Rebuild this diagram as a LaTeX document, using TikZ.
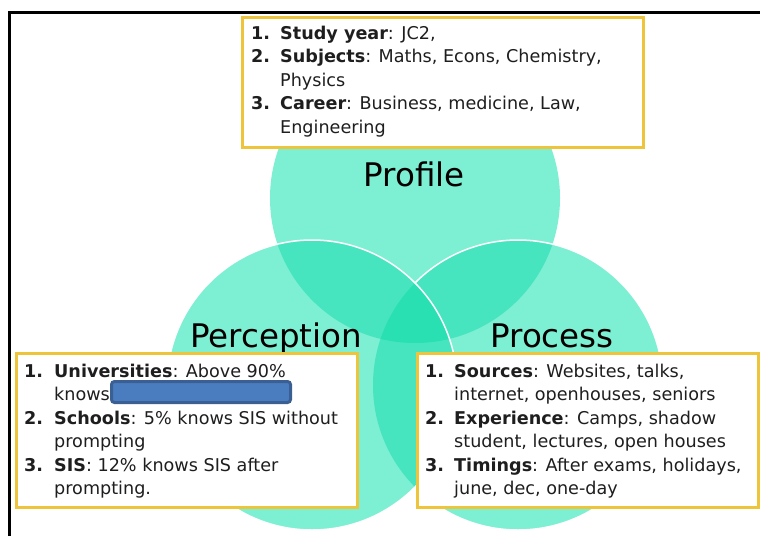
\documentclass[tikz,border=0pt]{standalone}
\usepackage{fontspec}
\setmainfont{DejaVu Sans}
\usepackage{array}

\definecolor{venn1}{HTML}{7DEFD3}
\definecolor{venn2}{HTML}{47E5BF}
\definecolor{venn3}{HTML}{29E0B2}
\definecolor{boxgold}{HTML}{EEC53A}
\definecolor{bodytext}{HTML}{1E1E1E}
\definecolor{maskfill}{HTML}{4A7DC0}
\definecolor{maskedge}{HTML}{3B5E93}

\tikzset{
  infobox/.style={draw=boxgold, line width=2.5pt, fill=white, inner sep=0pt,
    anchor=north west},
  itemtext/.style={anchor=base west, inner sep=0pt, text=bodytext,
    font=\fontsize{17.6}{23.5}\selectfont},
  biglabel/.style={anchor=base, inner sep=0pt, text=black,
    font=\fontsize{32.5}{39}\selectfont},
  vennedge/.style={draw=white, line width=1.5pt}
}

\begin{document}
\begin{tikzpicture}[x=1pt,y=-1pt]
  \useasboundingbox (0,0) rectangle (760,536);
  \fill[white] (0,0) rectangle (760,536);

  % frame lines along the top and left
  \draw[line width=3pt] (9.5,536) -- (9.5,12.5) -- (760,12.5);

  % Venn circle centres
  \coordinate (cTop)   at (415,198);
  \coordinate (cLeft)  at (312,385);
  \coordinate (cRight) at (518,385);

  % Profile circle
  \fill[venn1] (cTop) circle (145);

  % Process circle
  \fill[venn1] (cRight) circle (145);
  \begin{scope}
    \clip (cRight) circle (145);
    \fill[venn2] (cTop) circle (145);
  \end{scope}
  \draw[vennedge] (cRight) circle (145);

  % Perception circle
  \fill[venn1] (cLeft) circle (145);
  \begin{scope}
    \clip (cLeft) circle (145);
    \fill[venn2] (cTop) circle (145);
    \fill[venn2] (cRight) circle (145);
    \clip (cTop) circle (145);
    \fill[venn3] (cRight) circle (145);
  \end{scope}
  \draw[vennedge] (cLeft) circle (145);

  % circle labels
  \node[biglabel] (lblProfile)    at (414,186) {Profile};
  \node[biglabel] (lblPerception) at (276,347) {Perception};
  \node[biglabel] (lblProcess)    at (552,347) {Process};

  % Profile box
  \node[infobox, minimum width=401pt, minimum height=130pt] (boxProfile) at (241,16) {};
  \node[itemtext] (txtProfile) at (251,39) {%
    \begin{tabular}[t]{@{}p{29pt}@{}l@{}}
      \textbf{1.} & \textbf{Study year}: JC2,\\
      \textbf{2.} & \textbf{Subjects}: Maths, Econs, Chemistry,\\
                  & Physics\\
      \textbf{3.} & \textbf{Career}: Business, medicine, Law,\\
                  & Engineering
    \end{tabular}};

  % Perception box
  \node[infobox, minimum width=341pt, minimum height=154pt] (boxPerception) at (15,352) {};
  \node[itemtext] (txtPerception) at (24,377) {%
    \begin{tabular}[t]{@{}p{30pt}@{}l@{}}
      \textbf{1.} & \textbf{Universities}: Above 90\%\\
                  & knows\\
      \textbf{2.} & \textbf{Schools}: 5\% knows SIS without\\
                  & prompting\\
      \textbf{3.} & \textbf{SIS}: 12\% knows SIS after\\
                  & prompting.
    \end{tabular}};
  \draw[fill=maskfill, draw=maskedge, line width=3pt, rounded corners=3pt]
    (111.5,381.5) rectangle (290.5,402.5);

  % Process box
  \node[infobox, minimum width=341pt, minimum height=154pt] (boxProcess) at (416,352) {};
  \node[itemtext] (txtProcess) at (425,377) {%
    \begin{tabular}[t]{@{}p{29pt}@{}l@{}}
      \textbf{1.} & \textbf{Sources}: Websites, talks,\\
                  & internet, openhouses, seniors\\
      \textbf{2.} & \textbf{Experience}: Camps, shadow\\
                  & student, lectures, open houses\\
      \textbf{3.} & \textbf{Timings}: After exams, holidays,\\
                  & june, dec, one-day
    \end{tabular}};
\end{tikzpicture}
\end{document}
